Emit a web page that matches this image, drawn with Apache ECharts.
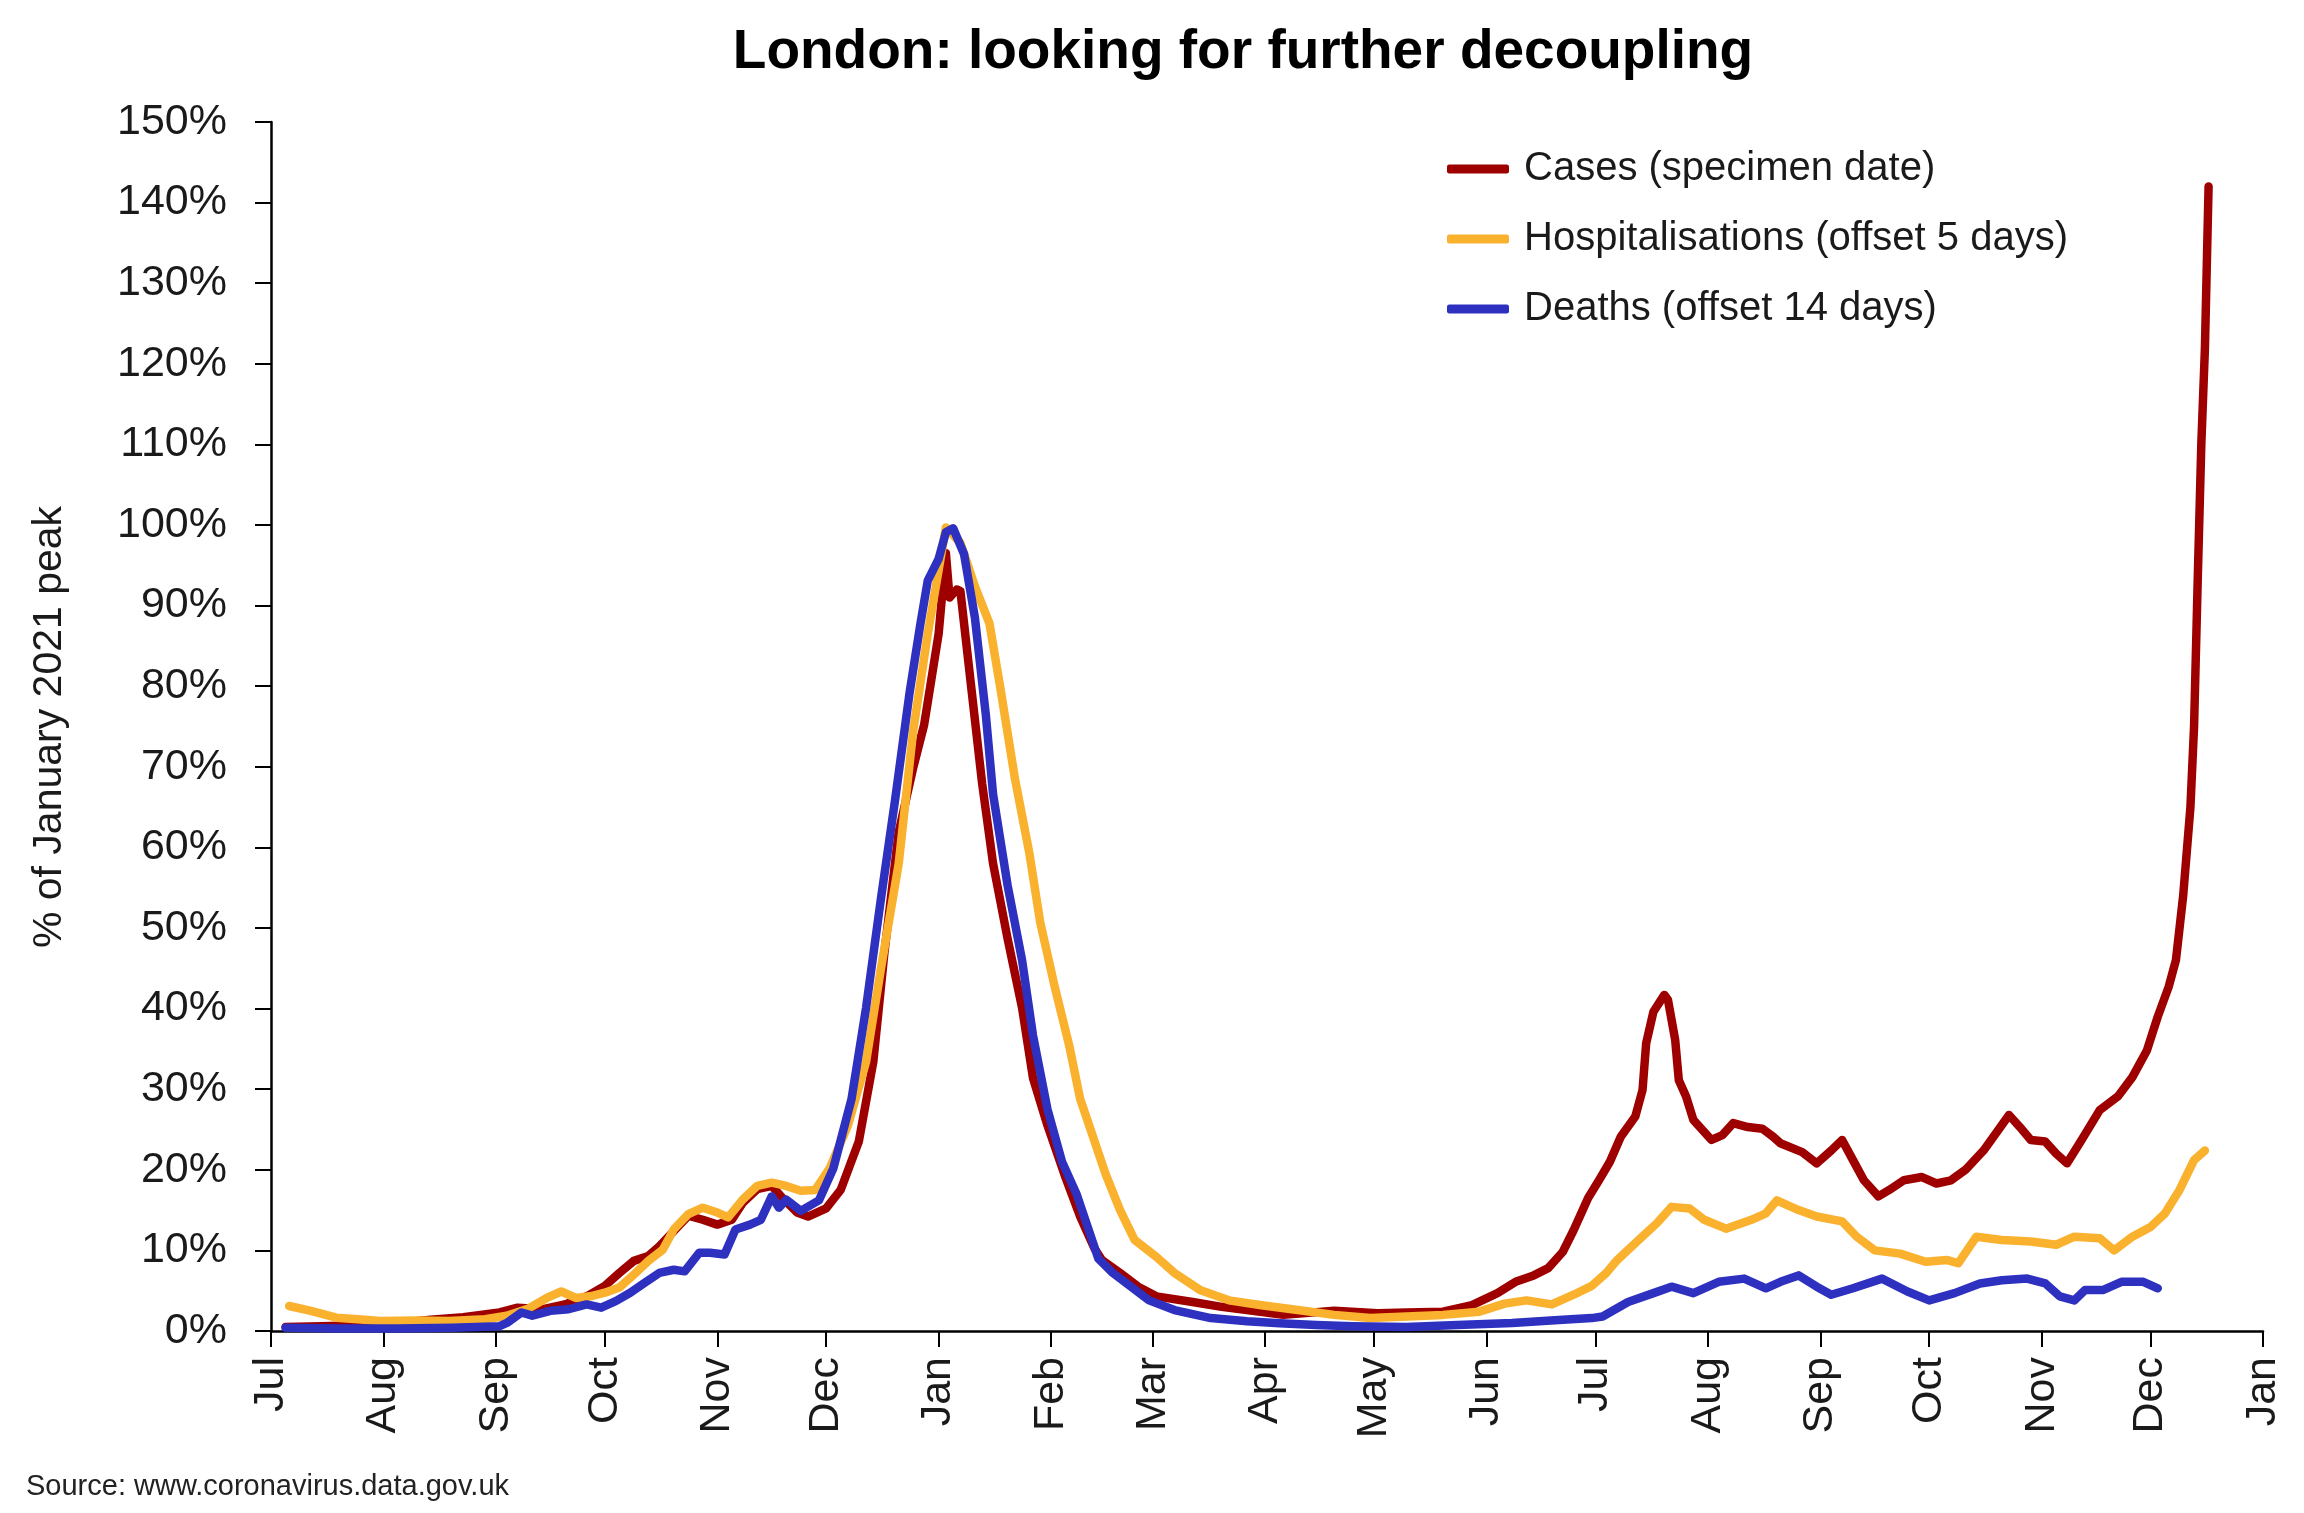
<!DOCTYPE html>
<html>
<head>
<meta charset="utf-8">
<script src="https://cdn.jsdelivr.net/npm/echarts@6/dist/echarts.min.js"></script>
<style>
html,body{margin:0;padding:0;background:#fff;}
#chart{width:2304px;height:1513px;}
</style>
</head>
<body>
<div id="chart"></div>
<script>
// ---- DATA ----
const seriesNames = ['Cases (specimen date)', 'Hospitalisations (offset 5 days)', 'Deaths (offset 14 days)'];

const tickDates = ['2020-07-01','2020-08-01','2020-09-01','2020-10-01','2020-11-01','2020-12-01',
  '2021-01-01','2021-02-01','2021-03-01','2021-04-01','2021-05-01','2021-06-01',
  '2021-07-01','2021-08-01','2021-09-01','2021-10-01','2021-11-01','2021-12-01','2022-01-01'];
const tickLabels = ['Jul','Aug','Sep','Oct','Nov','Dec','Jan','Feb','Mar','Apr','May','Jun',
  'Jul','Aug','Sep','Oct','Nov','Dec','Jan'];

const casesData = [
  ['2020-07-05',0.5],['2020-07-15',0.6],['2020-07-25',0.7],['2020-08-05',1.0],['2020-08-14',1.4],
  ['2020-08-23',1.7],['2020-09-02',2.3],['2020-09-07',2.9],['2020-09-14',2.7],['2020-09-20',3.3],
  ['2020-09-26',4.3],['2020-10-01',5.6],['2020-10-05',7.2],['2020-10-09',8.7],['2020-10-13',9.3],
  ['2020-10-16',10.5],['2020-10-20',12.4],['2020-10-24',14.3],['2020-10-28',13.8],['2020-11-01',13.2],
  ['2020-11-05',13.8],['2020-11-08',15.9],['2020-11-12',17.6],['2020-11-16',18.0],['2020-11-19',16.5],
  ['2020-11-23',14.7],['2020-11-26',14.2],['2020-12-01',15.2],['2020-12-05',17.5],['2020-12-10',23.5],
  ['2020-12-14',33.4],['2020-12-17',46.7],['2020-12-21',61.9],['2020-12-25',69.9],['2020-12-28',75.2],
  ['2021-01-01',86.5],['2021-01-03',96.5],['2021-01-04',91.0],['2021-01-06',92.0],['2021-01-07',91.8],
  ['2021-01-10',79.8],['2021-01-13',67.9],['2021-01-16',58.0],['2021-01-20',48.7],['2021-01-24',40.1],
  ['2021-01-27',31.4],['2021-01-31',25.5],['2021-02-05',19.0],['2021-02-09',14.2],['2021-02-13',10.2],
  ['2021-02-15',8.8],['2021-02-20',7.2],['2021-02-25',5.5],['2021-03-02',4.3],['2021-03-12',3.6],
  ['2021-03-20',3.0],['2021-03-27',2.6],['2021-04-06',2.0],['2021-04-20',2.5],['2021-05-02',2.2],
  ['2021-05-10',2.3],['2021-05-20',2.4],['2021-05-28',3.2],['2021-06-04',4.7],['2021-06-09',6.1],
  ['2021-06-14',6.9],['2021-06-18',7.8],['2021-06-22',9.8],['2021-06-25',12.5],['2021-06-29',16.5],
  ['2021-07-02',18.7],['2021-07-05',21.0],['2021-07-08',24.1],['2021-07-12',26.6],['2021-07-14',29.9],
  ['2021-07-15',35.7],['2021-07-17',39.6],['2021-07-20',41.7],['2021-07-21',41.1],['2021-07-23',36.1],
  ['2021-07-24',31.1],['2021-07-26',29.1],['2021-07-28',26.2],['2021-08-02',23.7],['2021-08-05',24.3],
  ['2021-08-08',25.8],['2021-08-12',25.3],['2021-08-16',25.1],['2021-08-19',24.1],['2021-08-21',23.3],
  ['2021-08-27',22.2],['2021-08-31',20.8],['2021-09-04',22.4],['2021-09-07',23.7],['2021-09-10',21.2],
  ['2021-09-13',18.7],['2021-09-17',16.7],['2021-09-20',17.5],['2021-09-24',18.7],['2021-09-29',19.1],
  ['2021-10-03',18.3],['2021-10-07',18.7],['2021-10-11',20.0],['2021-10-16',22.4],['2021-10-20',24.9],
  ['2021-10-23',26.8],['2021-10-26',25.3],['2021-10-29',23.7],['2021-11-02',23.5],['2021-11-05',22.0],
  ['2021-11-08',20.8],['2021-11-12',23.7],['2021-11-17',27.4],['2021-11-22',29.1],['2021-11-26',31.5],
  ['2021-11-30',34.8],['2021-12-03',39.0],['2021-12-06',42.7],['2021-12-08',46.0],['2021-12-10',54.0],
  ['2021-12-12',65.0],['2021-12-13',75.0],['2021-12-14',93.0],['2021-12-15',110.0],['2021-12-16',122.0],
  ['2021-12-17',142.0]
];

const hospData = [
  ['2020-07-06',3.1],['2020-07-12',2.5],['2020-07-19',1.65],['2020-07-25',1.45],['2020-07-31',1.25],
  ['2020-08-10',1.3],['2020-08-19',1.25],['2020-08-29',1.45],['2020-09-04',1.9],['2020-09-10',2.8],
  ['2020-09-15',4.1],['2020-09-19',4.9],['2020-09-23',4.1],['2020-09-27',4.3],['2020-10-01',4.75],
  ['2020-10-05',5.4],['2020-10-09',7.0],['2020-10-13',8.7],['2020-10-17',10.1],['2020-10-20',12.6],
  ['2020-10-24',14.5],['2020-10-28',15.3],['2020-11-01',14.7],['2020-11-04',14.1],['2020-11-08',16.3],
  ['2020-11-12',18.0],['2020-11-16',18.4],['2020-11-20',18.0],['2020-11-24',17.4],['2020-11-28',17.5],
  ['2020-12-02',20.2],['2020-12-07',25.5],['2020-12-12',33.4],['2020-12-16',44.7],['2020-12-21',58.0],
  ['2020-12-25',74.5],['2020-12-29',86.5],['2021-01-01',94.4],['2021-01-03',99.7],['2021-01-07',97.8],
  ['2021-01-11',92.4],['2021-01-15',87.8],['2021-01-18',79.8],['2021-01-22',68.6],['2021-01-26',59.3],
  ['2021-01-29',50.7],['2021-02-02',42.7],['2021-02-06',35.4],['2021-02-09',28.8],['2021-02-13',23.5],
  ['2021-02-16',19.5],['2021-02-20',15.0],['2021-02-24',11.3],['2021-03-02',9.2],['2021-03-07',7.2],
  ['2021-03-14',5.1],['2021-03-22',3.8],['2021-03-31',3.2],['2021-04-10',2.6],['2021-04-20',2.0],
  ['2021-04-30',1.6],['2021-05-10',1.8],['2021-05-20',2.0],['2021-05-30',2.4],['2021-06-06',3.4],
  ['2021-06-12',3.8],['2021-06-19',3.3],['2021-06-25',4.5],['2021-06-30',5.6],['2021-07-04',7.2],
  ['2021-07-07',8.8],['2021-07-12',10.9],['2021-07-18',13.4],['2021-07-22',15.4],['2021-07-27',15.2],
  ['2021-07-31',13.8],['2021-08-06',12.7],['2021-08-13',13.8],['2021-08-17',14.6],['2021-08-20',16.2],
  ['2021-08-26',15.0],['2021-08-31',14.2],['2021-09-07',13.6],['2021-09-11',11.7],['2021-09-16',10.0],
  ['2021-09-23',9.6],['2021-09-30',8.6],['2021-10-06',8.8],['2021-10-09',8.4],['2021-10-14',11.7],
  ['2021-10-21',11.3],['2021-10-29',11.1],['2021-11-05',10.7],['2021-11-10',11.7],['2021-11-17',11.5],
  ['2021-11-21',10.0],['2021-11-26',11.7],['2021-12-01',12.9],['2021-12-05',14.6],['2021-12-09',17.5],
  ['2021-12-13',21.2],['2021-12-16',22.4]
];

const deathsData = [
  ['2020-07-05',0.4],['2020-07-20',0.3],['2020-08-05',0.3],['2020-08-20',0.4],['2020-09-02',0.6],
  ['2020-09-04',1.0],['2020-09-08',2.3],['2020-09-11',1.9],['2020-09-16',2.5],['2020-09-21',2.7],
  ['2020-09-26',3.3],['2020-09-30',2.9],['2020-10-04',3.7],['2020-10-08',4.75],['2020-10-12',6.0],
  ['2020-10-16',7.2],['2020-10-20',7.6],['2020-10-23',7.4],['2020-10-27',9.7],['2020-10-30',9.7],
  ['2020-11-03',9.5],['2020-11-06',12.6],['2020-11-10',13.2],['2020-11-13',13.8],['2020-11-16',16.7],
  ['2020-11-18',15.3],['2020-11-20',16.3],['2020-11-24',14.9],['2020-11-29',16.2],['2020-12-03',20.2],
  ['2020-12-08',28.8],['2020-12-12',40.1],['2020-12-16',53.3],['2020-12-20',65.9],['2020-12-24',79.2],
  ['2020-12-27',87.8],['2020-12-29',93.1],['2021-01-01',95.8],['2021-01-03',99.1],['2021-01-05',99.6],
  ['2021-01-08',96.4],['2021-01-11',88.5],['2021-01-14',76.5],['2021-01-16',66.6],['2021-01-20',55.3],
  ['2021-01-24',46.0],['2021-01-27',36.7],['2021-01-31',27.5],['2021-02-04',21.0],['2021-02-08',17.0],
  ['2021-02-11',13.0],['2021-02-14',9.0],['2021-02-18',7.2],['2021-02-23',5.5],['2021-02-28',3.8],
  ['2021-03-07',2.6],['2021-03-17',1.6],['2021-03-27',1.2],['2021-04-05',0.95],['2021-04-15',0.74],
  ['2021-04-25',0.6],['2021-05-10',0.5],['2021-05-24',0.74],['2021-06-08',1.0],['2021-06-22',1.4],
  ['2021-06-30',1.6],['2021-07-03',1.8],['2021-07-10',3.6],['2021-07-17',4.7],['2021-07-22',5.5],
  ['2021-07-28',4.7],['2021-08-04',6.1],['2021-08-11',6.5],['2021-08-17',5.3],['2021-08-21',6.1],
  ['2021-08-26',6.9],['2021-08-31',5.5],['2021-09-04',4.5],['2021-09-10',5.3],['2021-09-18',6.5],
  ['2021-09-25',4.9],['2021-10-01',3.8],['2021-10-08',4.7],['2021-10-15',5.9],['2021-10-21',6.3],
  ['2021-10-28',6.5],['2021-11-02',5.9],['2021-11-06',4.3],['2021-11-10',3.8],['2021-11-13',5.1],
  ['2021-11-18',5.1],['2021-11-23',6.1],['2021-11-29',6.1],['2021-12-03',5.3]
];

// ---- CHART ----
function toTs(s){ const p = s.split('-').map(Number); return Date.UTC(p[0], p[1]-1, p[2]); }
const tickTs = tickDates.map(toTs);
function prep(arr){ return arr.map(d => [toTs(d[0]), d[1]]); }

const FONT = "'Liberation Sans', Arial, sans-serif";
const colors = ['#9E0000', '#F9B12E', '#2E30C0'];
const LW = 8.5;

const chart = echarts.init(document.getElementById('chart'), null, {renderer:'canvas'});
chart.setOption({
  backgroundColor: '#ffffff',
  animation: false,
  color: colors,
  textStyle: { fontFamily: FONT },
  grid: { left: 271, right: 41, top: 122, bottom: 182 },
  graphic: [
    { type:'text', x: 1243, y: 53, style:{ text:'London: looking for further decoupling',
      font: "bold 55px " + FONT, fill:'#000', align:'center', verticalAlign:'middle' } },
    { type:'text', x: 26, y: 1487, style:{ text:'Source: www.coronavirus.data.gov.uk',
      font: "29px " + FONT, fill:'#222', verticalAlign:'middle', align:'left' } },
    { type:'text', x: 50, y: 727, rotation: Math.PI/2, style:{ text:'% of January 2021 peak',
      font: "41px " + FONT, fill:'#1a1a1a', align:'center', verticalAlign:'middle' } }
  ],
  legend: {
    orient: 'vertical', left: 1447, top: 146, padding: 0,
    itemWidth: 62, itemHeight: 9, itemGap: 24, icon: 'roundRect',
    textStyle: { fontSize: 40, color: '#1a1a1a', fontFamily: FONT, lineHeight: 46, padding: [0,0,0,10] },
    data: seriesNames
  },
  xAxis: {
    type: 'value', min: tickTs[0], max: tickTs[tickTs.length-1],
    axisLine: { show: true, lineStyle: { color: '#000', width: 2.5 } },
    axisTick: { show: true, inside: false, length: 16, lineStyle: { color:'#000', width: 2 }, customValues: tickTs },
    axisLabel: {
      customValues: tickTs, rotate: 90, margin: 26, fontSize: 43, color: '#1a1a1a', fontFamily: FONT,
      formatter: function(v){ const i = tickTs.indexOf(v); return i >= 0 ? tickLabels[i] : ''; }
    },
    splitLine: { show: false }
  },
  yAxis: {
    type: 'value', min: 0, max: 150, interval: 10,
    axisLine: { show: true, lineStyle: { color: '#000', width: 2.5 } },
    axisTick: { show: true, inside: false, length: 16, lineStyle: { color:'#000', width: 2 } },
    axisLabel: { margin: 44, fontSize: 43, color: '#1a1a1a', fontFamily: FONT, formatter: '{value}%' },
    splitLine: { show: false }
  },
  series: [
    { name: seriesNames[0], type:'line', data: prep(casesData), showSymbol:false, smooth:false,
      lineStyle:{ width:LW, color: colors[0], cap:'round', join:'round' } },
    { name: seriesNames[1], type:'line', data: prep(hospData), showSymbol:false, smooth:false,
      lineStyle:{ width:LW, color: colors[1], cap:'round', join:'round' } },
    { name: seriesNames[2], type:'line', data: prep(deathsData), showSymbol:false, smooth:false,
      lineStyle:{ width:LW, color: colors[2], cap:'round', join:'round' } }
  ]
});
</script>
</body>
</html>
